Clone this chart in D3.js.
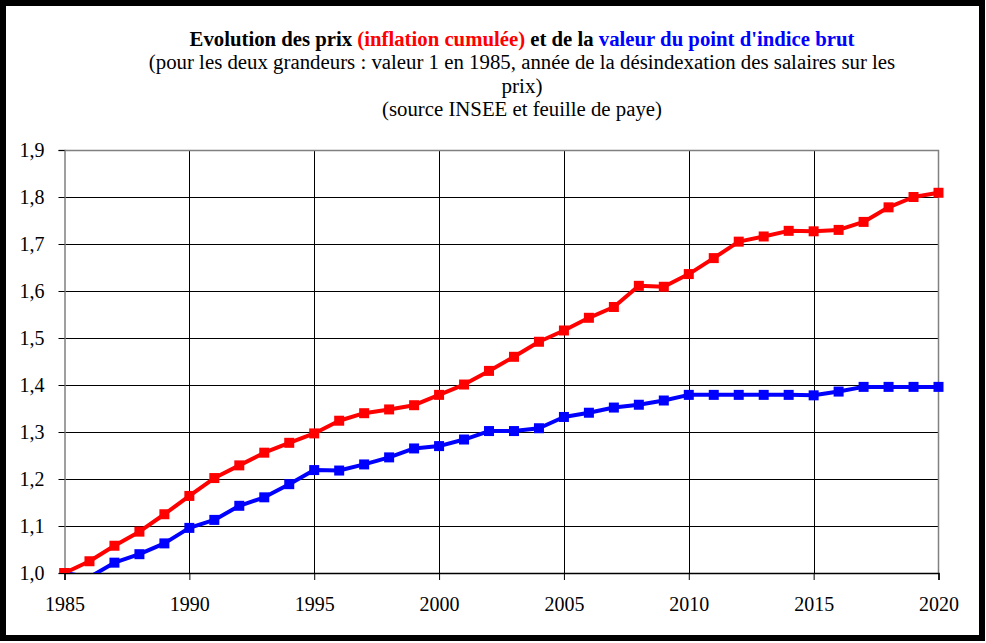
<!DOCTYPE html>
<html>
<head>
<meta charset="utf-8">
<script src="https://cdn.jsdelivr.net/npm/d3@7"></script>
<style>
  html, body { margin: 0; padding: 0; background: #fff; }
  svg { display: block; }
  svg text { font-family: "Liberation Serif", "Times New Roman", serif; }
</style>
</head>
<body>
<svg id="chart" width="986" height="643"></svg>
<script>
// years 1985 -> 2020
const years = d3.range(1985, 2021);

// cumulated inflation (1985 = 1)
const inflation = [
  1.000, 1.025, 1.058, 1.088, 1.125, 1.164, 1.202, 1.229, 1.256, 1.277,
  1.297, 1.324, 1.340, 1.348, 1.357, 1.379, 1.401, 1.430, 1.460, 1.492,
  1.516, 1.543, 1.566, 1.611, 1.609, 1.636, 1.670, 1.705, 1.716, 1.728,
  1.727, 1.730, 1.747, 1.778, 1.800, 1.809
];

// gross index point value (1985 = 1)
const pointIndice = [
  1.000, 0.991, 1.022, 1.040, 1.063, 1.096, 1.113, 1.143, 1.161, 1.189,
  1.219, 1.218, 1.231, 1.246, 1.265, 1.270, 1.284, 1.302, 1.302, 1.308,
  1.332, 1.341, 1.352, 1.358, 1.367, 1.379, 1.379, 1.379, 1.379, 1.379,
  1.378, 1.386, 1.396, 1.396, 1.396, 1.396
];

const yTicks = [1.0, 1.1, 1.2, 1.3, 1.4, 1.5, 1.6, 1.7, 1.8, 1.9];
const xTicks = [1985, 1990, 1995, 2000, 2005, 2010, 2015, 2020];

const titleLines = [
  [{ t: 'Evolution des prix ', c: '#000' }, { t: '(inflation cumulée)', c: '#f00' },
   { t: ' et de la ', c: '#000' }, { t: "valeur du point d'indice brut", c: '#00f' }],
  [{ t: '(pour les deux grandeurs : valeur 1 en 1985, année de la désindexation des salaires sur les', c: '#000' }],
  [{ t: 'prix)', c: '#000' }],
  [{ t: '(source INSEE et feuille de paye)', c: '#000' }]
];

const FONT = '"Liberation Serif", "Times New Roman", serif';
const svg = d3.select('#chart');

// outer thick frame
svg.append('rect')
  .attr('x', 3).attr('y', 3).attr('width', 979).attr('height', 635)
  .attr('fill', '#fff').attr('stroke', '#000').attr('stroke-width', 6);

const L = 64.5, R = 938.5, T = 150, B = 573;
const x = d3.scaleLinear().domain([1985, 2020]).range([L, R]);
const y = d3.scaleLinear().domain([1.0, 1.9]).range([B, T]);

// title (squeezed horizontally like the original)
const titleCx = 522;
const titleWidths = [665, 747, 41, 280];
const titleBase = [46, 69, 93, 116];
titleLines.forEach((parts, i) => {
  const g = svg.append('g');
  const t = g.append('text')
    .attr('x', titleCx).attr('y', titleBase[i])
    .attr('text-anchor', 'middle')
    .attr('font-size', 20)
    .attr('font-weight', i === 0 ? 'bold' : 'normal')
    .style('font-family', FONT);
  parts.forEach(p => t.append('tspan').attr('fill', p.c).text(p.t));
  const w = t.node().getComputedTextLength();
  const s = titleWidths[i] / w;
  g.attr('transform', `translate(${titleCx},0) scale(${s},1) translate(${-titleCx},0)`);
});

// grid
const grid = svg.append('g');
grid.selectAll('.hg').data(yTicks.filter(v => v > 1.0 && v < 1.9)).join('line')
  .attr('x1', L).attr('x2', R)
  .attr('y1', d => Math.round(y(d)) + 0.5).attr('y2', d => Math.round(y(d)) + 0.5)
  .attr('stroke', '#000').attr('stroke-width', 1);
grid.selectAll('.vg').data(xTicks.filter(v => v > 1985 && v < 2020)).join('line')
  .attr('y1', T).attr('y2', B)
  .attr('x1', d => Math.round(x(d)) + 0.5).attr('x2', d => Math.round(x(d)) + 0.5)
  .attr('stroke', '#000').attr('stroke-width', 1);

// plot frame: top / right grey
svg.append('path')
  .attr('d', `M${L},${T + 0.5}H${R}V${B}`)
  .attr('fill', 'none').attr('stroke', '#808080').attr('stroke-width', 1.5);

// axes
const fmt = d => d3.format('.1f')(d).replace('.', ',');
const yAxis = svg.append('g')
  .attr('transform', `translate(${L},0)`)
  .call(d3.axisLeft(y).tickValues(yTicks).tickFormat(fmt).tickSize(6).tickPadding(14));
yAxis.select('.domain').attr('stroke', '#808080').attr('stroke-width', 1.5);
yAxis.selectAll('.tick line').attr('stroke', '#000');
yAxis.selectAll('.tick text').attr('font-size', 20).attr('fill', '#000')
  .style('font-family', FONT);

const xAxis = svg.append('g')
  .attr('transform', `translate(0,${B})`)
  .call(d3.axisBottom(x).tickValues(xTicks).tickFormat(d3.format('d')).tickSize(7).tickPadding(17));
xAxis.select('.domain').attr('stroke', '#000').attr('stroke-width', 1.5);
xAxis.selectAll('.tick line').attr('stroke', '#000');
xAxis.selectAll('.tick text').attr('font-size', 20).attr('fill', '#000')
  .style('font-family', FONT);

// series
svg.append('clipPath').attr('id', 'plotclip')
  .append('rect').attr('x', L - 8).attr('y', T - 8).attr('width', R - L + 16).attr('height', B - T + 8);

const series = [
  { values: pointIndice, color: '#0000ff' },
  { values: inflation, color: '#ff0000' }
];
const line = d3.line().x(d => x(d.year)).y(d => y(d.v));
const ms = 10;

series.forEach(s => {
  const pts = years.map((yr, i) => ({ year: yr, v: s.values[i] }));
  const g = svg.append('g').attr('clip-path', 'url(#plotclip)');
  g.append('path').datum(pts)
    .attr('d', line)
    .attr('fill', 'none').attr('stroke', s.color)
    .attr('stroke-width', 4).attr('stroke-linejoin', 'round');
  g.selectAll('rect').data(pts.filter(p => p.v >= 1.0))
    .join('rect')
    .attr('x', d => x(d.year) - ms / 2).attr('y', d => y(d.v) - ms / 2)
    .attr('width', ms).attr('height', ms)
    .attr('fill', s.color);
});
</script>
</body>
</html>
